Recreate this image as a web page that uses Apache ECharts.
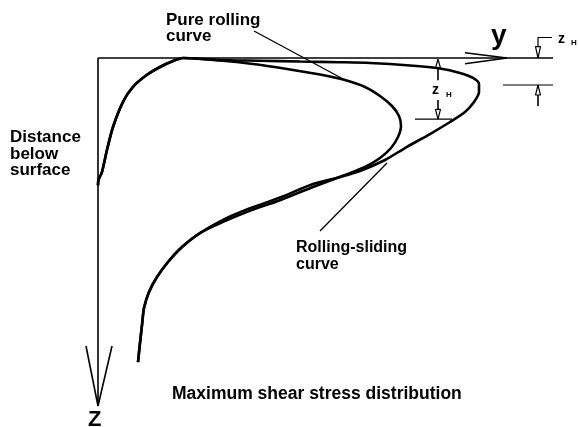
<!DOCTYPE html>
<html>
<head>
<meta charset="utf-8">
<script src="https://cdn.jsdelivr.net/npm/echarts@6/dist/echarts.min.js"></script>
<style>html,body{margin:0;padding:0;background:#fff;}#c{width:579px;height:427px;}</style>
</head>
<body>
<div id="c"></div>
<script>
// Stress (y direction, arbitrary units) vs depth below surface (z, arbitrary units)
const sharedTop = [[0.00,2.12],[0.005,2.03],[0.04,1.90],[0.09,1.53],[0.15,1.15],[0.25,0.73],[0.35,0.48],[0.49,0.28],[0.62,0.15],[0.75,0.05],[0.85,0.0]];
const pureRollingMid = [[1.22,0.042],[1.55,0.10],[1.89,0.183],[2.22,0.275],[2.47,0.367],[2.67,0.483],[2.82,0.633],[2.94,0.80],[3.01,0.967],[3.03,1.133],[3.00,1.317],[2.93,1.50],[2.82,1.667],[2.67,1.817],[2.47,1.95],[2.15,2.15],[1.82,2.37],[1.53,2.54],[1.24,2.74]];
const rollingSlidingMid = [[1.22,0.033],[1.62,0.045],[2.02,0.058],[2.42,0.07],[2.72,0.083],[3.12,0.125],[3.42,0.175],[3.62,0.25],[3.75,0.333],[3.81,0.433],[3.81,0.567],[3.76,0.733],[3.67,0.90],[3.52,1.067],[3.32,1.267],[3.07,1.50],[2.87,1.70],[2.62,1.883],[2.42,1.983],[2.15,2.10],[1.82,2.325],[1.52,2.505],[1.24,2.705]];
const sharedBottom = [[1.02,2.917],[0.84,3.15],[0.70,3.40],[0.59,3.65],[0.51,3.90],[0.46,4.167],[0.44,4.45],[0.42,4.75],[0.40,5.067]];

// Axis and annotation geometry (data units)
const yAxisLine = [[0,0],[4.55,0]];
const zAxisLine = [[0,0],[0,5.8]];
const yArrow = [[3.67,-0.087],[4.09,0],[3.67,0.097]];
const zArrow = [[-0.12,4.8],[0,5.8],[0.14,4.8]];
const leaderPure = [[1.56,-0.45],[2.47,0.367]];
const leaderSliding = [[2.22,2.883],[2.89,1.75]];
const dimMidUpHead = [[3.40,0.017],[3.375,0.17],[3.425,0.17],[3.40,0.017]];
const dimMidUpShaft = [[3.40,0.17],[3.40,0.37]];
const dimMidLowShaft = [[3.40,0.70],[3.40,0.855]];
const dimMidLowHead = [[3.40,1.02],[3.375,0.855],[3.425,0.855],[3.40,1.02]];
const dimMidBase = [[3.17,1.02],[3.54,1.02]];
const dimRightTop = [[4.54,-0.342],[4.40,-0.342],[4.40,-0.19]];
const dimRightUpHead = [[4.40,0],[4.375,-0.19],[4.425,-0.19],[4.40,0]];
const dimRightBase = [[4.05,0.45],[4.55,0.45]];
const dimRightLowHead = [[4.40,0.45],[4.375,0.617],[4.425,0.617],[4.40,0.45]];
const dimRightLowShaft = [[4.40,0.617],[4.40,0.80]];

const pureRolling = sharedTop.concat(pureRollingMid, sharedBottom);
const rollingSliding = sharedTop.concat(rollingSlidingMid, sharedBottom);

function curve(name, data) {
  return {type:'line', name, data, smooth:0.25, showSymbol:false, silent:true,
    lineStyle:{color:'#000', width:2.6}, z:5};
}
function seg(data, w) {
  return {type:'line', data, smooth:false, showSymbol:false, silent:true,
    lineStyle:{color:'#000', width:w}, z:4};
}

const chart = echarts.init(document.getElementById('c'), null, {renderer:'canvas'});
const font = '"Liberation Sans", Arial, sans-serif';
chart.setOption({
  animation:false,
  backgroundColor:'#fff',
  grid:{left:0,right:0,top:0,bottom:0},
  xAxis:{type:'value', min:-0.98, max:4.81, show:false},
  yAxis:{type:'value', min:-0.9667, max:6.15, inverse:true, show:false},
  series:[
    curve('Pure rolling', pureRolling),
    curve('Rolling-sliding', rollingSliding),
    seg(yAxisLine,1.6), seg(zAxisLine,1.6), seg(yArrow,1.6), seg(zArrow,1.6),
    seg(leaderPure,1.3), seg(leaderSliding,1.3),
    seg(dimMidUpHead,1.2), seg(dimMidUpShaft,1.6), seg(dimMidLowShaft,1.6), seg(dimMidLowHead,1.2), seg(dimMidBase,1.2),
    seg(dimRightTop,1.2), seg(dimRightUpHead,1.2), seg(dimRightBase,1.2), seg(dimRightLowHead,1.2), seg(dimRightLowShaft,1.6)
  ],
  graphic:[
    {type:'text', left:166, top:12, style:{text:'Pure rolling\ncurve', font:'bold 17px '+font, lineHeight:16, fill:'#000'}},
    {type:'text', left:10, top:129, style:{text:'Distance\nbelow\nsurface', font:'bold 17px '+font, lineHeight:16.5, fill:'#000'}},
    {type:'text', left:296, top:239, style:{text:'Rolling-sliding\ncurve', font:'bold 16px '+font, lineHeight:17, fill:'#000'}},
    {type:'text', left:172, top:385, style:{text:'Maximum shear stress distribution', font:'bold 17.5px '+font, fill:'#000'}},
    {type:'text', left:491, top:22, style:{text:'y', font:'bold 28px '+font, fill:'#000'}},
    {type:'text', left:88, top:409, style:{text:'Z', font:'bold 22px '+font, fill:'#000'}},
    {type:'text', left:432, top:83, style:{text:'z', font:'bold 14px '+font, fill:'#000'}},
    {type:'text', left:446, top:91, style:{text:'H', font:'bold 8px '+font, fill:'#000'}},
    {type:'text', left:558, top:32, style:{text:'z', font:'bold 14px '+font, fill:'#000'}},
    {type:'text', left:571, top:39, style:{text:'H', font:'bold 8px '+font, fill:'#000'}}
  ]
});
</script>
</body>
</html>
